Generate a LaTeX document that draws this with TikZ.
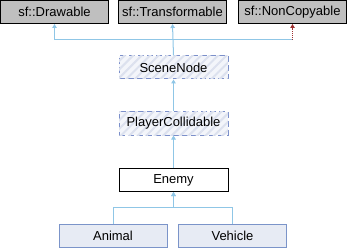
\documentclass[tikz,border=0pt]{standalone}
\usepackage{fontspec}
\setmainfont{Liberation Sans}
\usetikzlibrary{arrows.meta,patterns.meta}
\definecolor{edgeblue}{HTML}{8FC6E6}
\definecolor{privred}{HTML}{9E3030}
\definecolor{extgray}{HTML}{BFBFBF}
\definecolor{derivfill}{HTML}{E7EBF4}
\definecolor{derivline}{HTML}{7B94C9}
\definecolor{hatchline}{HTML}{7B8FCA}
\definecolor{hatchbg}{HTML}{F3F5FA}
\definecolor{hatchstripe}{HTML}{DCE1EE}
\tikzset{
  cls/.style={rectangle, inner sep=0pt, line width=1pt,
    minimum height=23pt, font=\fontsize{13}{15}\selectfont},
  extcls/.style={cls, draw=black, fill=extgray, minimum width=108pt},
  plaincls/.style={cls, draw=black, fill=white, minimum width=109pt},
  derivcls/.style={cls, draw=derivline, fill=derivfill, minimum width=108pt},
  hatchcls/.style={cls, draw=hatchline, dash pattern=on 6pt off 3pt,
    fill=hatchbg, minimum width=109pt,
    postaction={pattern={Lines[angle=45,distance=6pt,line width=2pt]},
      pattern color=hatchstripe}},
  edge/.style={draw=edgeblue, line width=1pt,
    -{Triangle[width=4.5pt,length=4pt]}},
  privedge/.style={draw=privred, line width=1pt, dash pattern=on 1pt off 1pt,
    -{Triangle[width=4.5pt,length=4pt,fill=privred]}},
}
\begin{document}
\begin{tikzpicture}[x=1pt,y=-1pt]
\useasboundingbox (0,0) rectangle (347,248);
% base classes from SFML
\node[extcls] (drawable) at (54.5,12) {sf::Drawable};
\node[extcls] (transformable) at (172.5,12) {sf::Transformable};
\node[extcls] (noncopyable) at (292.5,12) {sf::NonCopyable};
% hierarchy
\node[hatchcls] (scenenode) at (173.5,67.5) {SceneNode};
\node[hatchcls] (collidable) at (173.5,123.5) {PlayerCollidable};
\node[plaincls] (enemy) at (173.5,180) {Enemy};
\node[derivcls] (animal) at (113,235.5) {Animal};
\node[derivcls] (vehicle) at (232.5,235.5) {Vehicle};
% bus rows
\coordinate (topbus) at (0,40);
\coordinate (lowbus) at (0,207);
% edges
\draw[edge] (scenenode.north) -- (transformable.south);
\draw[edge] (scenenode.north |- topbus) -| (drawable.south);
\draw[draw=edgeblue, line width=1pt] (scenenode.north |- topbus) -- (noncopyable.south |- topbus);
\draw[privedge] (noncopyable.south |- topbus) -- (noncopyable.south);
\draw[edge] (collidable.north) -- (scenenode.south);
\draw[edge] (enemy.north) -- (collidable.south);
\draw[edge] (animal.north) |- (enemy.south |- lowbus) -- (enemy.south);
\draw[edge] (vehicle.north) |- (enemy.south |- lowbus) -- (enemy.south);
\end{tikzpicture}
\end{document}
